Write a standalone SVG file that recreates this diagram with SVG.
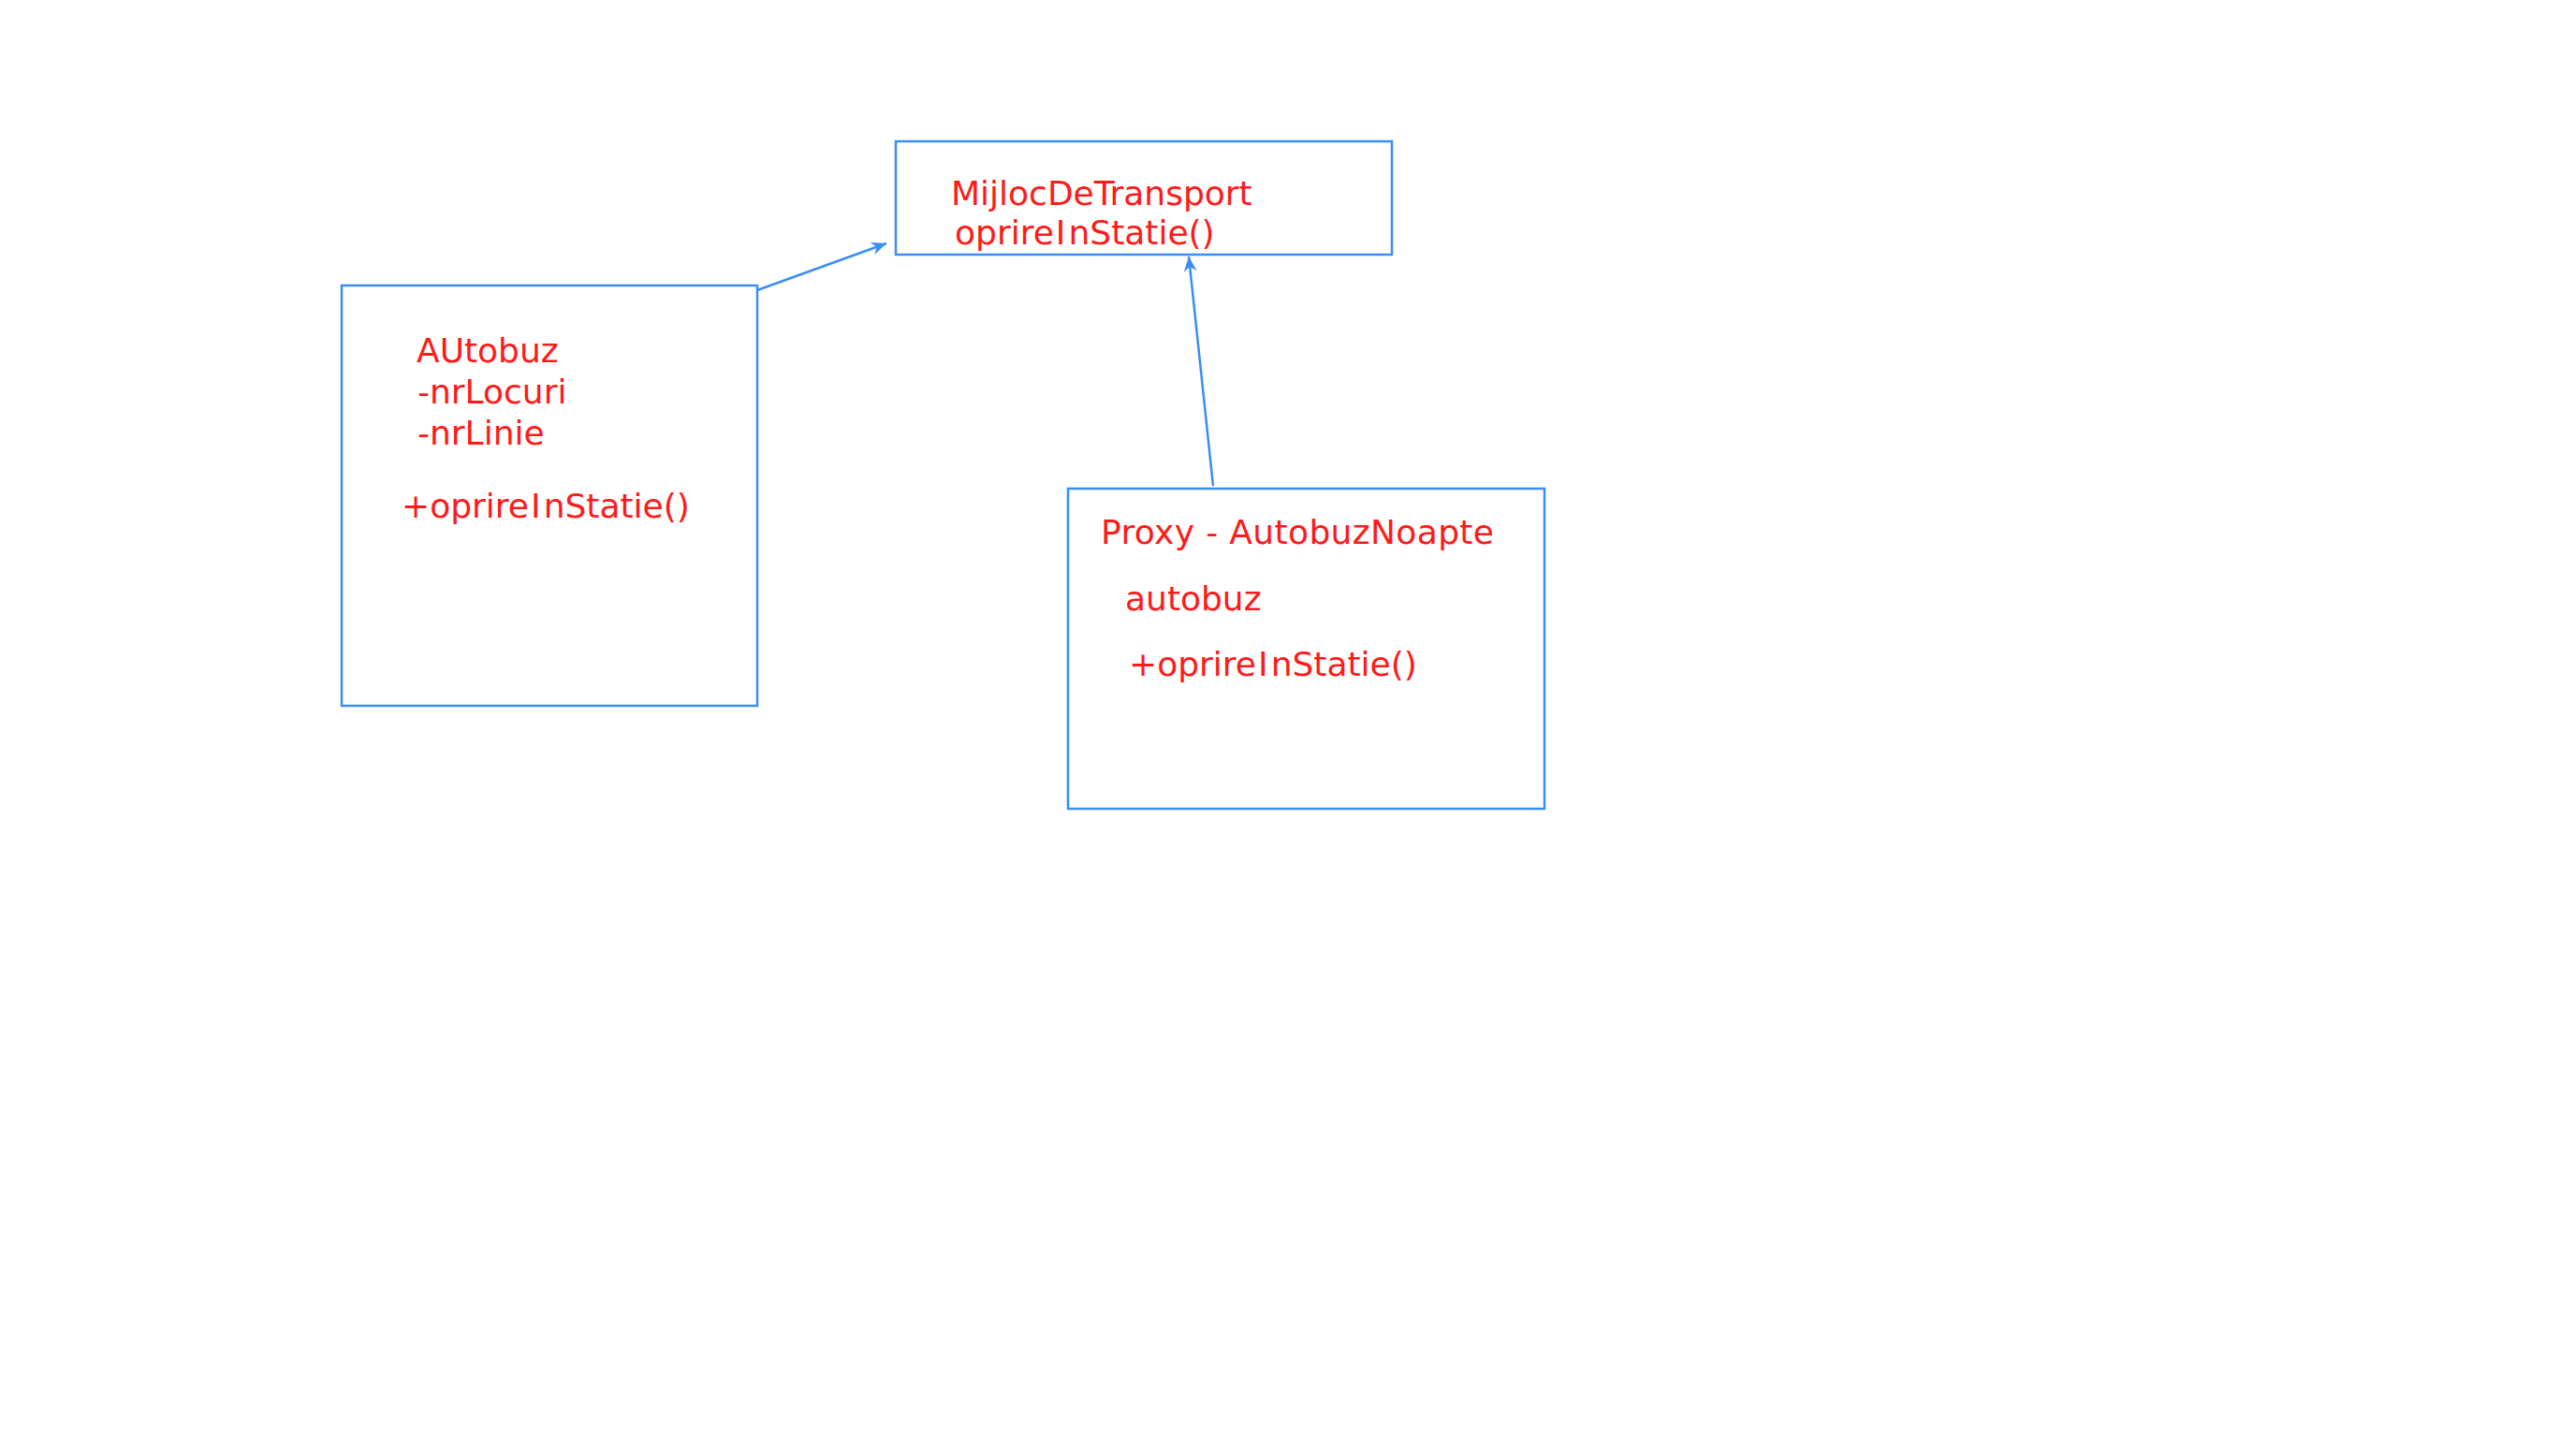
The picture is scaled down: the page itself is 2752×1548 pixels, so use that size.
<svg xmlns="http://www.w3.org/2000/svg" width="2752" height="1548" viewBox="0 0 2752 1548">
  <style>
    .box { fill: none; stroke: #3A8DF5; stroke-width: 2.5; }
    .lbl { font-family: "DejaVu Sans", Verdana, sans-serif; font-size: 36px; fill: #FF1A1A; }
    .conn { fill: none; stroke: #3A8DF5; stroke-width: 2.5; marker-end: url(#stealth); }
  </style>
  <defs>
    <!-- notched arrowhead for generalisation links -->
    <marker id="stealth" markerUnits="userSpaceOnUse" markerWidth="20" markerHeight="14" refX="16" refY="7" orient="auto" viewBox="0 0 20 14">
      <path d="M0,0 L16,7 L0,14 L5,7 Z" fill="#3A8DF5"/>
    </marker>
  </defs>
  <rect width="2752" height="1548" fill="#FFFFFF"/>

  <g id="mijloc-de-transport">
    <rect class="box" x="957" y="151" width="530" height="121"/>
    <text class="lbl" x="1016" y="219">MijlocDeTransport</text>
    <text class="lbl" x="1020" y="261">oprire<tspan dx="2">I</tspan><tspan dx="3">nStatie()</tspan></text>
  </g>

  <g id="autobuz">
    <rect class="box" x="365" y="305" width="444" height="449"/>
    <text class="lbl" x="445" y="387">AUtobuz</text>
    <text class="lbl" x="446" y="431">-nrLocuri</text>
    <text class="lbl" x="446" y="475">-nrLinie</text>
    <text class="lbl" x="429" y="553">+oprire<tspan dx="2">I</tspan><tspan dx="3">nStatie()</tspan></text>
  </g>

  <g id="autobuz-noapte">
    <rect class="box" x="1141" y="522" width="509" height="342"/>
    <text class="lbl" x="1176" y="581" textLength="420">Proxy - AutobuzNoapte</text>
    <text class="lbl" x="1202" y="652">autobuz</text>
    <text class="lbl" x="1206" y="722">+oprire<tspan dx="2">I</tspan><tspan dx="3">nStatie()</tspan></text>
  </g>

  <g id="connectors">
    <line class="conn" x1="809" y1="310" x2="947" y2="260"/>
    <line class="conn" x1="1296" y1="519" x2="1270" y2="274"/>
  </g>
</svg>
